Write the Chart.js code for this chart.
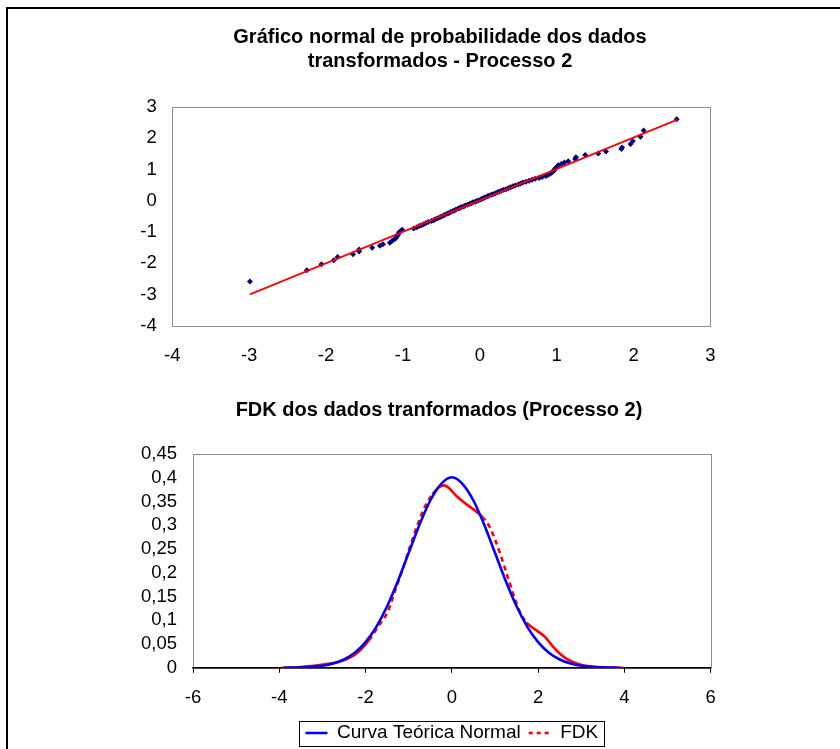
<!DOCTYPE html>
<html>
<head>
<meta charset="utf-8">
<title>Processo 2</title>
<script src="https://cdn.jsdelivr.net/npm/chart.js@4.4.1/dist/chart.umd.min.js"></script>
<style>
    body {
        margin: 0;
        width: 840px;
        height: 749px;
        overflow: hidden;
        position: relative;
        background: #ffffff;
    }
    #frame {
        position: absolute;
        left: 6px;
        top: 7px;
        width: 900px;
        height: 900px;
        border: 2px solid #000000;
    }
    #qq-chart {
        position: absolute;
        left: 0px;
        top: 0px;
    }
    #kde-chart {
        position: absolute;
        left: 0px;
        top: 380px;
    }
</style>
</head>
<body>
<div id="frame"></div>
<canvas id="qq-chart" width="840" height="380"></canvas>
<canvas id="kde-chart" width="840" height="375"></canvas>
<script>
// grafico normal de probabilidade (x = dados transformados, y = quantil normal)
let qq_x = [-2.99, -2.25, -2.06, -1.90, -1.85, -1.65, -1.57, -1.57, -1.40, -1.30, -1.26, -1.17, -1.14, -1.11, -1.09, -1.07, -1.06, -1.05, -1.03, -1.01,
    -0.86, -0.82, -0.79, -0.76, -0.73, -0.70, -0.67, -0.63, -0.60, -0.58, -0.55, -0.52, -0.50, -0.47, -0.45, -0.42, -0.40, -0.38, -0.35, -0.33,
    -0.31, -0.28, -0.26, -0.24, -0.21, -0.19, -0.16, -0.13, -0.11, -0.09, -0.06, -0.04,
    -0.02, 0.01, 0.03, 0.05, 0.07, 0.10, 0.12, 0.15, 0.17, 0.20, 0.23, 0.25, 0.28, 0.31, 0.34, 0.37, 0.40, 0.43, 0.46, 0.50,
    0.53, 0.56, 0.60, 0.64, 0.68, 0.72, 0.77, 0.81, 0.86, 0.89, 0.92, 0.94, 0.96, 0.97, 0.98, 1.00, 1.02, 1.06, 1.10, 1.15,
    1.24, 1.25, 1.37, 1.54, 1.64, 1.84, 1.85, 1.96, 1.99, 2.09, 2.13, 2.56];
let qq_y = [-2.58, -2.22, -2.03, -1.90, -1.80, -1.71, -1.62, -1.56, -1.50, -1.44, -1.39, -1.34, -1.28, -1.23, -1.18, -1.12, -1.06, -1.01, -0.97, -0.93,
    -0.89, -0.85, -0.81, -0.78, -0.75, -0.71, -0.68, -0.65, -0.62, -0.59, -0.56, -0.53, -0.50, -0.47, -0.44, -0.41, -0.39, -0.36, -0.33, -0.31,
    -0.28, -0.25, -0.23, -0.20, -0.18, -0.15, -0.13, -0.10, -0.08, -0.05, -0.03, -0.01,
    0.01, 0.04, 0.06, 0.09, 0.11, 0.14, 0.16, 0.19, 0.21, 0.24, 0.27, 0.29, 0.32, 0.35, 0.37, 0.40, 0.43, 0.46, 0.49, 0.52,
    0.55, 0.58, 0.61, 0.64, 0.67, 0.70, 0.73, 0.76, 0.79, 0.83, 0.87, 0.91, 0.95, 0.99, 1.03, 1.08, 1.13, 1.17, 1.22, 1.26,
    1.33, 1.39, 1.46, 1.51, 1.57, 1.65, 1.70, 1.81, 1.91, 2.04, 2.24, 2.60];

// reta de referencia
let ref_x = [-2.99, 2.57];
let ref_y = [-2.99, 2.59];

// curva teorica normal
let normal_x = [-3.9, -3.5, -3.25, -3, -2.75, -2.5, -2.25, -2, -1.75, -1.5, -1.25, -1, -0.75, -0.5, -0.25, 0,
    0.25, 0.5, 0.75, 1, 1.25, 1.5, 1.75, 2, 2.25, 2.5, 2.75, 3, 3.25, 3.5, 3.9];
let normal_y = [0.0002, 0.0009, 0.002, 0.0044, 0.0091, 0.0175, 0.0317, 0.054, 0.0863, 0.1295, 0.1826, 0.242, 0.3011, 0.3521, 0.3867, 0.401,
    0.3867, 0.3521, 0.3011, 0.242, 0.1826, 0.1295, 0.0863, 0.054, 0.0317, 0.0175, 0.0091, 0.0044, 0.002, 0.0009, 0.0002];

// FDK (densidade estimada)
let fdk_x = [-3.95, -3.55, -3.2, -2.9, -2.6, -2.35, -2.15, -1.92, -1.7, -1.48, -1.32, -1.15, -0.97, -0.8, -0.62, -0.45, -0.3, -0.18, -0.05,
    0.1, 0.34, 0.55, 0.7, 0.88, 1.0, 1.11, 1.31, 1.45, 1.58, 1.73, 1.96, 2.16, 2.35, 2.5, 2.66, 2.97, 3.28, 3.6, 3.98];
let fdk_y = [0, 0.001, 0.004, 0.008, 0.013, 0.022, 0.035, 0.058, 0.088, 0.119, 0.161, 0.205, 0.255, 0.3, 0.34, 0.365, 0.38, 0.384, 0.377,
    0.362, 0.344, 0.33, 0.318, 0.296, 0.27, 0.243, 0.187, 0.148, 0.117, 0.095, 0.079, 0.065, 0.044, 0.03, 0.019, 0.007, 0.002, 0.0005, 0];

let qqChart, kdeChart;

Chart.defaults.font.family = "Arial, 'Liberation Sans', sans-serif";
Chart.defaults.color = "#000000";

function toPoints(xs, ys) {
    let points = [];
    for (let i = 0; i < xs.length; i++) {
        points.push({ x: xs[i], y: ys[i] });
    }
    return points;
}

function formatComma(value) {
    let v = Math.round(value * 100) / 100;
    return String(v).replace(".", ",");
}

// gray box round the plot area, drawn before the axes
const plotFrame = {
    id: "plotFrame",
    beforeDraw(chart) {
        let area = chart.chartArea;
        let ctx = chart.ctx;
        ctx.save();
        ctx.strokeStyle = "#8c8c8c";
        ctx.lineWidth = 1;
        ctx.strokeRect(Math.round(area.left) + 0.5, Math.round(area.top) + 0.5,
            Math.round(area.right - area.left), Math.round(area.bottom - area.top));
        ctx.restore();
    }
};

// the y axis box is kept narrow so the title centres like the original;
// widen its label clip area back to the canvas edge
const wideLabels = {
    id: "wideLabels",
    afterLayout(chart) {
        chart.scales.y.left = 0;
    }
};

// border round the legend items
const legendBox = {
    id: "legendBox",
    afterDraw(chart) {
        let boxes = chart.legend.legendHitBoxes;
        if (!boxes || boxes.length == 0) {
            return;
        }
        let left = Math.min(...boxes.map(b => b.left));
        let right = Math.max(...boxes.map(b => b.left + b.width));
        let top = Math.min(...boxes.map(b => b.top));
        let bottom = Math.max(...boxes.map(b => b.top + b.height));
        let ctx = chart.ctx;
        ctx.save();
        ctx.strokeStyle = "#000000";
        ctx.lineWidth = 1;
        ctx.strokeRect(Math.round(left - 6) + 0.5, Math.round(top - 3) + 0.5,
            Math.round(right - left + 12), Math.round(bottom - top + 6));
        ctx.restore();
    }
};

function legendLabels(chart) {
    let items = Chart.defaults.plugins.legend.labels.generateLabels(chart);
    for (let i = 0; i < items.length; i++) {
        let ds = chart.data.datasets[items[i].datasetIndex];
        items[i].lineWidth = ds.borderWidth;
        items[i].strokeStyle = ds.borderColor;
        items[i].lineDash = ds.borderDash ? [4, 4] : [];
    }
    return items;
}

function steepSegment(ctx) {
    let dx = Math.abs(ctx.p1.x - ctx.p0.x);
    let dy = Math.abs(ctx.p1.y - ctx.p0.y);
    if (dy > 1.3 * dx) {
        return [5, 4];
    }
    return [];
}

function initQQChart() {
    qqChart = new Chart(document.getElementById("qq-chart"), {
        type: "scatter",
        data: {
            datasets: [{
                label: "Reta",
                data: toPoints(ref_x, ref_y),
                showLine: true,
                borderColor: "#ff0000",
                borderWidth: 1.7,
                pointRadius: 0,
                tension: 0
            }, {
                label: "Dados",
                data: toPoints(qq_x, qq_y),
                pointStyle: "rectRot",
                pointRadius: 3,
                backgroundColor: "#000080",
                borderColor: "#000080",
                borderWidth: 0
            }]
        },
        options: {
            responsive: false,
            animation: false,
            layout: { padding: { left: 169.5, right: 129.5, top: 0, bottom: 0 } },
            plugins: {
                legend: { display: false },
                tooltip: { enabled: false },
                title: {
                    display: true,
                    text: ["Gráfico normal de probabilidade dos dados", "transformados - Processo 2"],
                    color: "#000000",
                    font: { size: 20, weight: "bold", lineHeight: 1.17 },
                    padding: { top: 26, bottom: 34 }
                }
            },
            scales: {
                x: {
                    type: "linear",
                    min: -4,
                    max: 3,
                    grid: { display: false, drawTicks: false },
                    border: { display: false },
                    ticks: { stepSize: 1, padding: 19, autoSkip: false, font: { size: 18.5 }, color: "#000000" },
                    afterFit: function (scale) { scale.height = 54; }
                },
                y: {
                    type: "linear",
                    min: -4,
                    max: 3,
                    grid: { display: false, drawTicks: false },
                    border: { display: false },
                    ticks: { stepSize: 1, padding: 15.5, autoSkip: false, font: { size: 18.5 }, color: "#000000" },
                    afterFit: function (scale) { scale.width = 2.8; }
                }
            }
        },
        plugins: [plotFrame, wideLabels]
    });
}

function initKdeChart() {
    kdeChart = new Chart(document.getElementById("kde-chart"), {
        type: "scatter",
        data: {
            datasets: [{
                label: "Curva Teórica Normal",
                data: toPoints(normal_x, normal_y),
                showLine: true,
                borderColor: "#0000ff",
                backgroundColor: "#0000ff",
                borderWidth: 2.6,
                pointRadius: 0,
                cubicInterpolationMode: "monotone"
            }, {
                label: "FDK",
                data: toPoints(fdk_x, fdk_y),
                showLine: true,
                borderColor: "#ff0000",
                backgroundColor: "#ff0000",
                borderWidth: 2.6,
                borderDash: [5, 4],
                pointRadius: 0,
                cubicInterpolationMode: "monotone",
                segment: { borderDash: steepSegment }
            }]
        },
        options: {
            responsive: false,
            animation: false,
            layout: { padding: { left: 167.3, right: 129.3, top: 0, bottom: 2.5 } },
            plugins: {
                tooltip: { enabled: false },
                title: {
                    display: true,
                    text: "FDK dos dados tranformados (Processo 2)",
                    color: "#000000",
                    font: { size: 20, weight: "bold", lineHeight: 1.17 },
                    padding: { top: 18.6, bottom: 32 }
                },
                legend: {
                    position: "bottom",
                    fullSize: false,
                    labels: {
                        usePointStyle: true,
                        pointStyle: "line",
                        pointStyleWidth: 22,
                        boxHeight: 19,
                        padding: 8,
                        color: "#000000",
                        font: { size: 19 },
                        generateLabels: legendLabels
                    }
                }
            },
            scales: {
                x: {
                    type: "linear",
                    min: -6,
                    max: 6,
                    grid: { drawOnChartArea: false, drawTicks: true, tickLength: 5, color: "#000000" },
                    border: { display: true, color: "#000000", width: 1.5 },
                    ticks: { stepSize: 2, padding: 14, autoSkip: false, font: { size: 18.5 }, color: "#000000" },
                    afterFit: function (scale) { scale.height = 47.7; }
                },
                y: {
                    type: "linear",
                    min: 0,
                    max: 0.45,
                    grid: { display: false, drawTicks: false },
                    border: { display: false },
                    ticks: {
                        stepSize: 0.05,
                        padding: 16,
                        autoSkip: false,
                        font: { size: 18.5 },
                        color: "#000000",
                        callback: function (value) { return formatComma(value); }
                    },
                    afterFit: function (scale) { scale.width = 25.7; }
                }
            }
        },
        plugins: [plotFrame, wideLabels, legendBox]
    });
}

initQQChart();
initKdeChart();
</script>
</body>
</html>
